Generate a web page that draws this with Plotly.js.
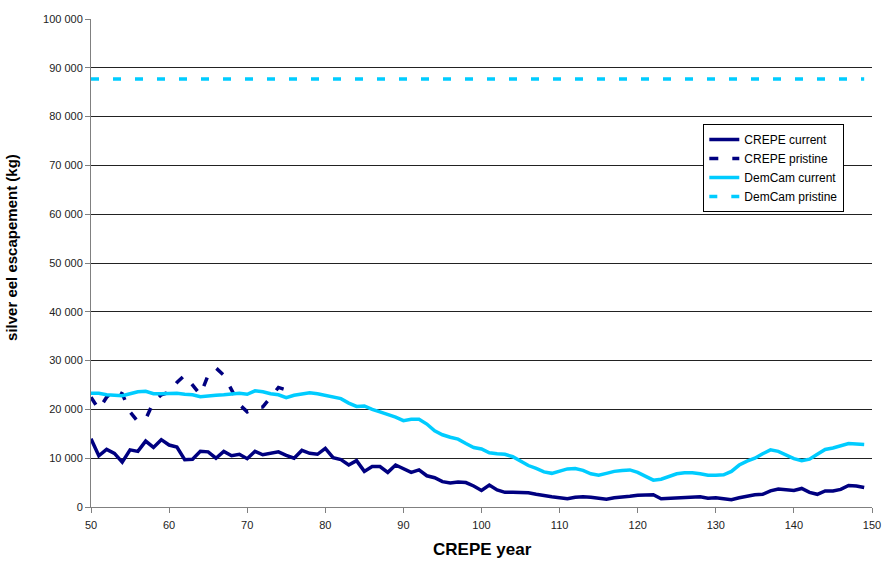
<!DOCTYPE html>
<html>
<head>
<meta charset="utf-8">
<script src="https://cdn.plot.ly/plotly-3.0.1.min.js"></script>
<style>html,body{margin:0;padding:0;background:#fff;}#chart{width:886px;height:561px;}</style>
</head>
<body>
<div id="chart"></div>
<script>
// Years 50..149
const years = [];
for (let y = 50; y <= 149; y++) years.push(y);

const crepeCurrent = [
 14000,10500,11800,11000,9200,11700,11400,13500,12200,13800,
 12700,12300,9700,9800,11400,11300,10000,11400,10500,10800,
 9900,11400,10700,11000,11300,10600,10000,11600,11000,10800,
 12000,10100,9700,8600,9500,7300,8300,8300,7100,8600,
 7900,7100,7600,6400,6000,5200,4900,5100,5000,4300,
 3400,4500,3500,3000,3000,3000,2900,2600,2300,2100,
 1900,1700,2000,2100,2000,1800,1600,1900,2000,2200,
 2400,2400,2500,1700,1800,1800,1900,2000,2100,1800,
 1900,1700,1500,1900,2200,2500,2600,3300,3700,3600,
 3400,3800,3000,2600,3300,3300,3600,4400,4300,4000
];

const demcamCurrent = [
 23300,23300,23000,22900,22800,23200,23600,23700,23200,23200,
 23200,23300,23100,23000,22600,22800,22900,23000,23200,23300,
 23100,23800,23600,23200,23000,22400,22900,23200,23400,23200,
 22900,22600,22200,21300,20600,20700,20000,19500,19000,18400,
 17700,18000,18000,17000,15600,14800,14300,13900,13000,12200,
 11900,11100,10900,10800,10300,9400,8500,7900,7200,6900,
 7300,7800,7900,7500,6800,6500,6900,7300,7500,7600,
 7100,6200,5500,5700,6200,6800,7000,7000,6800,6500,
 6500,6600,7300,8600,9400,10000,10900,11700,11400,10700,
 9900,9500,9800,10800,11800,12100,12600,13000,12900,12800
];

const crepePristineYears = [50,51,52,53,54,55,56,57,58,59,60,61,62,63,64,65,66,67,68,69,70,71,72,73,74,75];
const crepePristine = [
 22500,20000,22500,24000,23200,19500,17500,18000,21500,23000,
 23500,25500,27000,25000,23000,27000,28500,27000,24000,21000,
 19500,20300,20500,22500,24500,24000
];

const demcamPristineYears = [50,149];
const demcamPristine = [87700,87700];

const yTicks = [0,10000,20000,30000,40000,50000,60000,70000,80000,90000,100000];
const xTicks = [50,60,70,80,90,100,110,120,130,140,150];

const NAVY = '#000080';
const CYAN = '#00CCFF';
const FONT = 'Liberation Sans, Arial, sans-serif';

const traces = [
 {x: years, y: crepeCurrent, name: 'CREPE current', mode: 'lines',
  line: {color: NAVY, width: 3.5}},
 {x: crepePristineYears, y: crepePristine, name: 'CREPE pristine', mode: 'lines',
  line: {color: NAVY, width: 3.5, dash: '9px,14px'}},
 {x: years, y: demcamCurrent, name: 'DemCam current', mode: 'lines',
  line: {color: CYAN, width: 3.5}},
 {x: demcamPristineYears, y: demcamPristine, name: 'DemCam pristine', mode: 'lines',
  line: {color: CYAN, width: 3.5, dash: '8px,14px'}}
];

const layout = {
 width: 886, height: 561,
 margin: {l: 91, r: 14, t: 19, b: 54},
 paper_bgcolor: '#ffffff', plot_bgcolor: '#ffffff',
 separators: '. ',
 font: {family: FONT, size: 11, color: '#222'},
 showlegend: true,
 legend: {x: 0.784, y: 0.785, xanchor: 'left', yanchor: 'top',
  bgcolor: '#ffffff', bordercolor: '#000', borderwidth: 1,
  font: {size: 12, color: '#000'}, tracegroupgap: 0},
 xaxis: {
  range: [50, 150], tickvals: xTicks, ticktext: xTicks.map(String),
  showgrid: false, zeroline: false,
  showline: true, linecolor: '#808080', linewidth: 1,
  ticks: 'outside', ticklen: 5, tickcolor: '#808080',
  ticklabelstandoff: 3,
  tickfont: {size: 11, color: '#222'}
 },
 yaxis: {
  range: [0, 100000], tickvals: yTicks, tickformat: ',d',
  showgrid: true, gridcolor: '#222', gridwidth: 1, zeroline: false,
  showline: true, linecolor: '#808080', linewidth: 1,
  ticks: 'outside', ticklen: 5, tickcolor: '#808080',
  tickfont: {size: 11, color: '#222'}
 },
 annotations: [
  {text: 'CREPE year', xref: 'paper', yref: 'paper', x: 0.5015, y: -0.0881,
   xanchor: 'center', yanchor: 'middle', showarrow: false,
   font: {size: 17, color: '#000', family: FONT, weight: 'bold'}},
  {text: 'silver eel escapement (kg)', xref: 'paper', yref: 'paper', x: -0.1012, y: 0.5328,
   xanchor: 'center', yanchor: 'middle', showarrow: false, textangle: -90,
   font: {size: 15, color: '#000', family: FONT, weight: 'bold'}}
 ]
};

Plotly.newPlot('chart', traces, layout, {displayModeBar: false, staticPlot: true});
</script>
</body>
</html>
